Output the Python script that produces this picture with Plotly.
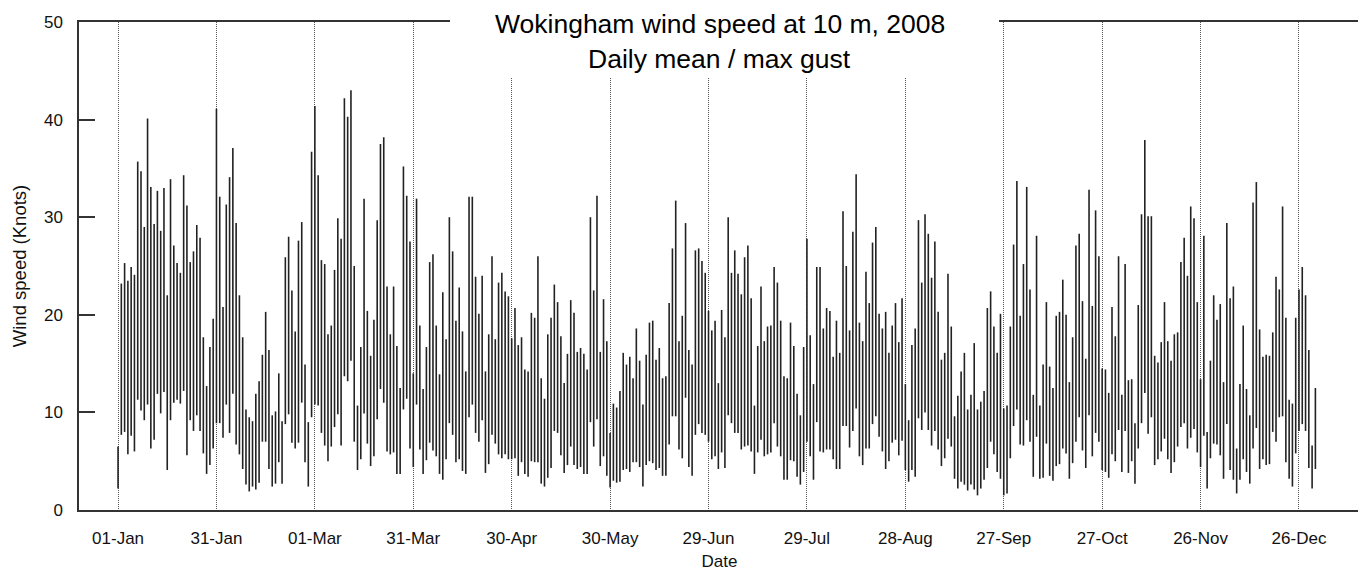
import pandas as pd
import plotly.graph_objects as go

start_date = "2008-01-01"
n_days = 366

gust = [
    6.5, 23.2, 25.3, 23.5, 24.9, 24.1, 35.7, 34.7, 29.0, 40.1,
    33.1, 29.3, 32.7, 28.6, 33.0, 22.0, 33.9, 27.1, 25.3, 24.3,
    34.3, 31.2, 25.4, 26.5, 29.2, 27.9, 17.7, 12.7, 16.7, 19.6,
    41.1, 32.1, 20.8, 31.3, 34.1, 37.1, 29.4, 22.0, 17.7, 10.3,
    9.5, 9.1, 11.9, 13.2, 15.9, 20.3, 16.4, 9.7, 10.1, 14.0,
    9.1, 25.9, 28.0, 22.5, 18.3, 27.6, 29.5, 14.9, 9.0, 36.7,
    41.4, 34.3, 25.6, 25.2, 18.0, 18.9, 24.6, 29.9, 27.8, 42.2,
    40.3, 43.0, 25.0, 10.7, 16.7, 31.9, 20.4, 15.8, 19.5, 29.7,
    37.5, 38.2, 22.9, 18.0, 22.9, 16.8, 12.5, 35.2, 32.2, 27.5,
    14.0, 31.9, 18.9, 12.4, 16.7, 25.4, 26.2, 18.9, 13.9, 22.3,
    17.5, 30.0, 26.5, 19.4, 22.8, 18.3, 14.2, 32.1, 32.1, 23.9,
    20.1, 24.0, 14.2, 18.0, 26.0, 17.5, 23.3, 24.3, 22.4, 21.9,
    17.6, 20.7, 16.9, 17.7, 14.4, 14.2, 20.2, 19.7, 26.0, 13.5,
    11.4, 18.0, 19.7, 23.1, 21.3, 17.8, 13.0, 16.0, 21.5, 20.2,
    16.2, 16.6, 16.0, 14.4, 30.0, 22.5, 32.2, 16.2, 21.6, 17.3,
    7.9, 10.9, 10.5, 12.2, 16.1, 14.9, 15.7, 13.5, 18.6, 15.3,
    10.8, 15.9, 19.2, 19.4, 15.4, 16.6, 13.5, 13.7, 21.2, 26.8,
    31.7, 17.3, 19.9, 29.4, 16.4, 14.9, 26.6, 26.8, 25.5, 24.3,
    20.4, 18.4, 19.4, 13.0, 20.5, 17.7, 30.0, 24.3, 26.6, 24.2,
    22.1, 25.9, 27.1, 21.7, 10.7, 16.8, 22.9, 17.3, 18.8, 18.9,
    24.9, 23.3, 19.4, 13.7, 13.5, 19.2, 16.8, 11.9, 9.7, 16.7,
    27.8, 17.9, 12.9, 24.9, 24.9, 18.6, 20.7, 20.4, 15.7, 19.4,
    16.1, 30.6, 25.0, 18.4, 28.5, 34.4, 19.2, 17.3, 24.4, 21.2,
    27.4, 29.0, 20.1, 18.6, 20.3, 16.1, 18.9, 21.2, 17.2, 21.7,
    12.9, 9.2, 16.9, 18.6, 29.7, 23.3, 30.3, 28.3, 23.8, 27.5,
    20.3, 15.4, 16.1, 24.2, 18.8, 9.6, 11.7, 14.2, 16.1, 10.3,
    11.8, 17.1, 10.3, 11.1, 12.2, 20.7, 22.4, 18.8, 16.1, 20.1,
    10.4, 10.7, 18.8, 27.2, 33.7, 19.9, 25.2, 33.1, 22.6, 11.8,
    28.1, 10.7, 14.9, 21.3, 14.7, 12.5, 19.9, 20.3, 23.6, 20.0,
    13.1, 17.7, 27.1, 28.3, 21.4, 15.5, 32.8, 20.9, 30.7, 26.0,
    14.5, 14.4, 12.0, 20.8, 17.8, 26.0, 11.8, 25.2, 13.3, 13.4,
    8.9, 21.0, 30.3, 37.9, 30.1, 30.1, 15.8, 15.1, 17.2, 21.3,
    17.3, 15.3, 18.0, 18.2, 25.4, 27.9, 24.0, 31.1, 29.9, 21.3,
    13.4, 28.1, 8.0, 15.3, 22.0, 19.5, 21.1, 13.1, 29.4, 21.7,
    22.9, 6.3, 12.9, 18.9, 12.4, 9.7, 31.5, 33.6, 18.5, 15.7,
    15.9, 15.8, 18.2, 23.9, 22.6, 31.1, 19.7, 11.3, 10.9, 19.7,
    22.6, 24.9, 22.0, 16.4, 6.6, 12.5,
]

mean = [
    2.2, 7.7, 8.0, 5.7, 7.6, 6.0, 11.3, 10.2, 9.2, 10.8,
    6.3, 7.2, 11.9, 9.9, 12.1, 4.1, 9.2, 11.0, 11.3, 10.9,
    12.2, 5.6, 9.2, 8.1, 9.7, 8.1, 5.8, 3.7, 4.6, 6.3,
    8.9, 8.9, 7.4, 10.8, 7.9, 11.9, 6.7, 5.7, 4.2, 2.6,
    1.9, 2.4, 2.1, 2.8, 7.0, 7.0, 4.2, 2.4, 2.7, 4.9,
    2.7, 8.8, 9.8, 6.9, 6.3, 6.9, 11.0, 4.9, 2.4, 9.5,
    10.8, 10.7, 7.9, 6.6, 5.0, 6.5, 8.5, 9.8, 6.6, 13.7,
    13.2, 15.3, 7.0, 4.1, 5.2, 9.9, 6.8, 4.5, 5.5, 9.3,
    12.4, 11.0, 6.0, 5.7, 5.9, 3.7, 3.7, 10.3, 11.4, 6.3,
    4.4, 10.8, 6.2, 3.7, 5.1, 6.9, 6.1, 5.5, 3.7, 3.1,
    5.2, 8.9, 7.7, 4.9, 5.2, 4.0, 3.7, 9.5, 10.8, 7.9,
    7.0, 9.2, 3.8, 4.7, 7.7, 6.8, 5.7, 5.3, 5.7, 5.2,
    5.2, 5.3, 3.5, 4.9, 3.7, 3.4, 5.0, 4.9, 4.9, 2.7,
    2.4, 3.3, 4.3, 8.1, 7.9, 5.6, 3.8, 4.6, 6.5, 4.6,
    4.2, 4.4, 3.7, 3.7, 9.0, 6.5, 9.3, 4.5, 5.5, 3.5,
    2.3, 3.0, 2.8, 2.9, 4.1, 4.2, 3.9, 4.9, 4.9, 4.4,
    2.4, 4.6, 5.0, 4.8, 4.1, 4.3, 3.5, 3.5, 6.7, 9.6,
    9.6, 6.2, 5.3, 11.5, 4.4, 3.5, 7.7, 8.8, 7.9, 7.7,
    7.0, 5.2, 5.5, 4.2, 5.9, 4.3, 9.7, 8.9, 7.9, 7.9,
    6.2, 6.5, 6.6, 6.0, 3.7, 5.9, 7.2, 5.5, 5.7, 5.9,
    8.9, 6.5, 5.5, 3.1, 3.1, 5.1, 5.0, 3.4, 2.6, 3.9,
    7.0, 5.5, 3.1, 9.0, 6.0, 5.9, 6.2, 6.2, 5.2, 4.2,
    4.2, 8.6, 8.6, 6.4, 8.1, 10.4, 5.5, 4.6, 6.3, 6.3,
    8.8, 9.6, 7.5, 6.0, 4.2, 5.0, 6.9, 7.2, 5.6, 7.1,
    4.1, 2.9, 4.1, 3.4, 9.4, 8.2, 10.0, 8.2, 6.6, 8.1,
    6.2, 4.5, 5.3, 7.3, 6.5, 3.2, 2.2, 2.9, 2.6, 2.0,
    2.6, 2.1, 1.5, 2.2, 3.1, 4.3, 7.0, 5.7, 3.9, 3.2,
    1.5, 1.7, 5.3, 8.6, 10.3, 6.7, 6.6, 9.2, 7.0, 3.4,
    7.5, 3.2, 3.3, 6.8, 3.5, 3.0, 4.5, 4.7, 6.3, 5.8,
    3.2, 4.8, 7.0, 9.5, 6.1, 4.3, 9.7, 5.5, 7.9, 7.0,
    4.1, 3.9, 3.3, 5.7, 5.0, 8.2, 3.9, 8.1, 3.8, 5.0,
    2.7, 6.3, 8.9, 12.0, 7.8, 9.5, 4.6, 5.2, 6.0, 7.3,
    5.2, 3.8, 4.9, 6.5, 8.5, 8.9, 6.3, 7.4, 8.3, 5.9,
    4.4, 7.6, 2.2, 5.3, 6.8, 6.7, 5.6, 3.2, 8.8, 4.1,
    3.1, 1.7, 3.1, 5.2, 3.9, 2.7, 6.3, 8.4, 4.2, 5.2,
    4.6, 4.7, 8.0, 7.0, 9.5, 9.6, 4.9, 3.2, 2.4, 5.8,
    8.1, 8.8, 8.1, 4.3, 2.2, 4.2,
]

y_ticks = [0, 10, 20, 30, 40, 50]
title_text = "Wokingham wind speed at 10 m, 2008"
subtitle_text = "Daily mean / max gust"

assert len(gust) == n_days and len(mean) == n_days

dates = pd.date_range(start_date, periods=n_days, freq="D")

xs, ys = [], []
for d, lo, hi in zip(dates, mean, gust):
    xs += [d, d, None]
    ys += [lo, hi, None]

fig = go.Figure()
fig.add_trace(go.Scatter(
    x=xs, y=ys, mode="lines",
    line=dict(color="#222222", width=1.6),
    hoverinfo="skip", showlegend=False,
))

t0 = pd.Timestamp(start_date)
x_range = [t0 - pd.Timedelta(days=11.9), t0 + pd.Timedelta(days=378.6)]

FONT = "Liberation Sans, Arial, sans-serif"
# page body has an 8px margin; compensate so the plot lands where the reference has it
OFF = 8
PAGE_W, PAGE_H = 1366, 574
plot_left, plot_right, plot_top, plot_bottom = 79, 1360, 22, 510
W, H = PAGE_W - OFF, PAGE_H - OFF
ml = plot_left - OFF
mt = plot_top - OFF
mr = PAGE_W - plot_right
mb = PAGE_H - plot_bottom

fig.update_layout(
    width=W, height=H,
    margin=dict(l=ml, r=mr, t=mt, b=mb, autoexpand=False),
    paper_bgcolor="white", plot_bgcolor="white",
    font=dict(family=FONT, size=17, color="#111"),
    xaxis=dict(
        type="date", range=x_range,
        tick0=start_date, dtick=30 * 86400000, tickformat="%d-%b",
        showgrid=True, gridcolor="#555", griddash="1px,1px", gridwidth=1,
        showline=True, linecolor="#333", linewidth=1.5, mirror=True,
        ticks="", ticklabelstandoff=12,
        title=dict(text="Date", standoff=8, font=dict(size=17)),
        zeroline=False,
    ),
    yaxis=dict(
        range=[0, 50], tickvals=y_ticks,
        showgrid=False, zeroline=False,
        showline=True, linecolor="#333", linewidth=1.5, mirror=True,
        ticks="inside", ticklen=16, tickcolor="#333", tickwidth=1.5,
        ticklabelstandoff=11,
        title=dict(text="Wind speed (Knots)", standoff=12, font=dict(size=18.5)),
    ),
)

plot_w = plot_right - plot_left
plot_h = plot_bottom - plot_top
bx0 = (450 - plot_left) / plot_w
bx1 = (999 - plot_left) / plot_w
by0 = 1 - (78 - plot_top) / plot_h

fig.add_shape(type="rect", xref="paper", yref="paper",
              x0=bx0, x1=bx1, y0=by0, y1=1.2,
              fillcolor="white", line=dict(width=0), layer="above")

fig.add_annotation(text=title_text, xref="paper", yref="paper",
                   x=0.5, y=1 - (24 - plot_top) / plot_h, yanchor="middle",
                   showarrow=False, font=dict(size=26.5, color="#000"))
fig.add_annotation(text=subtitle_text, xref="paper", yref="paper",
                   x=0.5, y=1 - (59 - plot_top) / plot_h, yanchor="middle",
                   showarrow=False, font=dict(size=26.5, color="#000"))

fig.write_html("out.html")
